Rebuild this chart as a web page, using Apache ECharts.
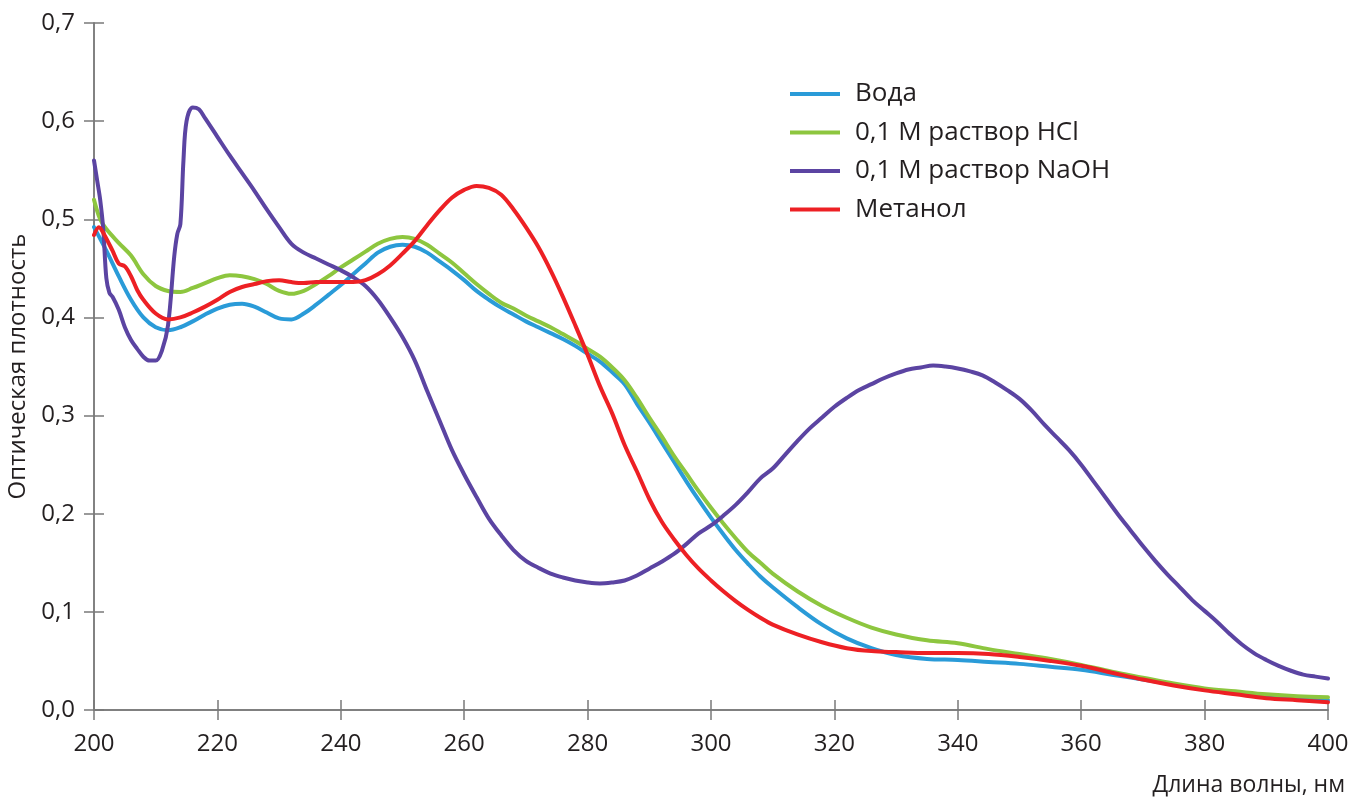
<!DOCTYPE html>
<html>
<head>
<meta charset="utf-8">
<script src="https://cdn.jsdelivr.net/npm/echarts@6/dist/echarts.min.js"></script>
<style>html,body{margin:0;padding:0;background:#fff;}#c{width:1348px;height:804px;}</style>
</head>
<body>
<div id="c"></div>
<script>
const xTicks = [200,220,240,260,280,300,320,340,360,380,400];
const yTicks = [0,0.1,0.2,0.3,0.4,0.5,0.6,0.7];
const seriesNames = ['Вода','0,1 M раствор HCl','0,1 M раствор NaOH','Метанол'];

const waterNm = [200,202,204,206,208,210,212,214,216,218,220,222,224,226,228,230,232,234,236,238,240,242,244,246,248,250,252,254,256,258,260,262,264,266,268,270,272,274,276,278,280,282,284,286,288,290,292,294,296,298,300,302,304,306,308,310,314,318,322,326,330,335,340,345,350,355,360,365,370,375,380,385,390,395,400];
const waterVal = [0.492,0.468,0.442,0.418,0.400,0.390,0.387,0.390,0.396,0.403,0.409,0.413,0.414,0.411,0.405,0.399,0.398,0.404,0.413,0.423,0.433,0.444,0.455,0.466,0.472,0.474,0.472,0.466,0.457,0.448,0.438,0.427,0.418,0.410,0.403,0.396,0.390,0.384,0.378,0.371,0.363,0.355,0.344,0.332,0.312,0.293,0.273,0.253,0.233,0.214,0.196,0.179,0.163,0.149,0.136,0.125,0.105,0.087,0.073,0.063,0.056,0.052,0.051,0.049,0.047,0.044,0.041,0.036,0.031,0.026,0.021,0.017,0.014,0.012,0.010];

const hclNm = [200,201,202,204,206,208,210,212,214,216,218,220,222,224,226,228,230,232,234,236,238,240,242,244,246,248,250,252,254,256,258,260,262,264,266,268,270,272,274,276,278,280,282,284,286,288,290,292,294,296,298,300,302,304,306,308,310,314,318,322,326,330,335,340,345,350,355,360,365,370,375,380,385,390,395,400];
const hclVal = [0.520,0.500,0.490,0.476,0.463,0.444,0.432,0.427,0.426,0.430,0.435,0.440,0.443,0.442,0.439,0.434,0.427,0.424,0.427,0.434,0.442,0.451,0.459,0.467,0.475,0.480,0.482,0.480,0.474,0.465,0.456,0.445,0.434,0.424,0.415,0.409,0.402,0.396,0.390,0.383,0.376,0.368,0.360,0.349,0.336,0.318,0.298,0.279,0.259,0.241,0.223,0.206,0.190,0.175,0.161,0.150,0.139,0.121,0.106,0.094,0.084,0.077,0.071,0.068,0.062,0.057,0.052,0.046,0.039,0.033,0.027,0.022,0.019,0.016,0.014,0.013];

const naohNm = [200,200.5,201,201.5,202,202.5,203,204,205,206,207,208,209,210,211,212,213,213.5,214,214.5,215,216,217,218,220,222,224,226,228,230,232,234,236,238,240,242,244,246,248,250,252,254,256,258,260,262,264,266,268,270,272,274,276,278,280,282,284,286,288,290,292,294,296,298,300,302,304,306,308,310,312,314,316,318,320,322,324,326,328,330,332,334,336,338,340,342,344,346,348,350,352,354,356,358,360,362,364,366,368,370,372,374,376,378,380,382,384,386,388,390,392,394,396,398,400];
const naohVal = [0.560,0.540,0.520,0.490,0.440,0.425,0.421,0.408,0.390,0.377,0.368,0.360,0.356,0.356,0.366,0.392,0.462,0.485,0.495,0.560,0.600,0.614,0.612,0.603,0.584,0.565,0.547,0.529,0.510,0.492,0.475,0.466,0.460,0.454,0.448,0.441,0.432,0.418,0.400,0.380,0.356,0.325,0.295,0.265,0.240,0.217,0.195,0.178,0.163,0.152,0.145,0.139,0.135,0.132,0.130,0.129,0.130,0.132,0.137,0.144,0.151,0.159,0.169,0.180,0.188,0.198,0.209,0.222,0.236,0.246,0.260,0.274,0.287,0.298,0.309,0.318,0.326,0.332,0.338,0.343,0.347,0.349,0.351,0.350,0.348,0.345,0.341,0.334,0.326,0.317,0.305,0.291,0.278,0.265,0.250,0.233,0.216,0.199,0.183,0.167,0.152,0.138,0.125,0.112,0.101,0.090,0.078,0.067,0.058,0.051,0.045,0.040,0.036,0.034,0.032];

const methNm = [200,200.8,201.6,203,204,205,206,207,208,210,212,214,216,218,220,222,224,226,228,230,232,234,236,238,240,242,244,246,248,250,252,254,256,258,260,262,264,266,268,270,272,274,276,278,280,282,284,286,288,290,292,294,296,298,300,302,304,306,308,310,314,318,322,326,330,335,340,345,350,355,360,365,370,375,380,385,390,395,400];
const methVal = [0.484,0.492,0.485,0.468,0.455,0.452,0.442,0.428,0.418,0.404,0.398,0.400,0.405,0.411,0.418,0.426,0.431,0.434,0.437,0.438,0.436,0.435,0.436,0.436,0.436,0.436,0.438,0.444,0.453,0.465,0.478,0.494,0.509,0.522,0.530,0.534,0.532,0.525,0.510,0.492,0.472,0.448,0.421,0.392,0.362,0.330,0.302,0.270,0.243,0.215,0.192,0.174,0.158,0.144,0.132,0.121,0.111,0.102,0.094,0.087,0.077,0.069,0.063,0.060,0.059,0.058,0.058,0.057,0.054,0.050,0.045,0.038,0.031,0.025,0.020,0.016,0.012,0.010,0.008];

const colors = ['#2a9bd8','#8dc63f','#5b44a2','#ed2024'];
const FONT = 'Open Sans';
const TXT = '#231f20';

function pairs(xs, ys){ return xs.map((x,i)=>[x, ys[i]]); }

const chart = echarts.init(document.getElementById('c'));
const axisLine = {show:true, lineStyle:{color:'#7a7a7a', width:1.5}};
const mkSeries = (name, xs, ys, c) => ({
  name, type:'line', data: pairs(xs, ys), showSymbol:false, symbol:'none',
  smooth:0.35, lineStyle:{width:4, color:c, cap:'round', join:'round'}, itemStyle:{color:c},
  xAxisIndex:0, yAxisIndex:0
});
chart.setOption({
  animation:false,
  textStyle:{fontFamily:FONT},
  grid:{left:94, right:20, top:23, bottom:94, containLabel:false, outerBoundsMode:'none'},
  legend:{
    orient:'vertical', left:785, top:76, itemWidth:50, itemHeight:4, itemGap:12.5, icon:'rect',
    textStyle:{fontFamily:FONT, fontSize:26, color:TXT, padding:[0,0,0,10]},
    data: seriesNames
  },
  xAxis:[
    {type:'value', min:200, max:400, interval:20, axisLine,
     axisTick:{show:true, length:10, lineStyle:{color:'#7a7a7a', width:1.5}},
     axisLabel:{fontSize:24, color:TXT, margin:22, fontFamily:FONT, formatter:v=>String(v)},
     splitLine:{show:false}},
    {type:'value', min:200, max:400, interval:20, position:'bottom', axisLine,
     axisTick:{show:true, inside:true, length:10, lineStyle:{color:'#7a7a7a', width:1.5}},
     axisLabel:{show:false}, splitLine:{show:false}}
  ],
  yAxis:[
    {type:'value', min:0, max:0.7, interval:0.1, axisLine,
     axisTick:{show:true, length:10, lineStyle:{color:'#7a7a7a', width:1.5}},
     axisLabel:{fontSize:24, color:TXT, margin:19, fontFamily:FONT, formatter:v=>v.toFixed(1).replace('.',',')},
     splitLine:{show:false},
     name:'Оптическая плотность', nameLocation:'middle', nameGap:62,
     nameTextStyle:{fontSize:24, color:TXT, fontFamily:FONT}},
    {type:'value', min:0, max:0.7, interval:0.1, position:'left', axisLine,
     axisTick:{show:true, inside:true, length:10, lineStyle:{color:'#7a7a7a', width:1.5}},
     axisLabel:{show:false}, splitLine:{show:false}}
  ],
  graphic:[{type:'text', right:3, top:774, style:{text:'Длина волны, нм', font:'23px "Open Sans"', fill:TXT}}],
  series:[
    mkSeries(seriesNames[0], waterNm, waterVal, colors[0]),
    mkSeries(seriesNames[1], hclNm, hclVal, colors[1]),
    mkSeries(seriesNames[2], naohNm, naohVal, colors[2]),
    mkSeries(seriesNames[3], methNm, methVal, colors[3])
  ]
});
</script>
</body>
</html>
